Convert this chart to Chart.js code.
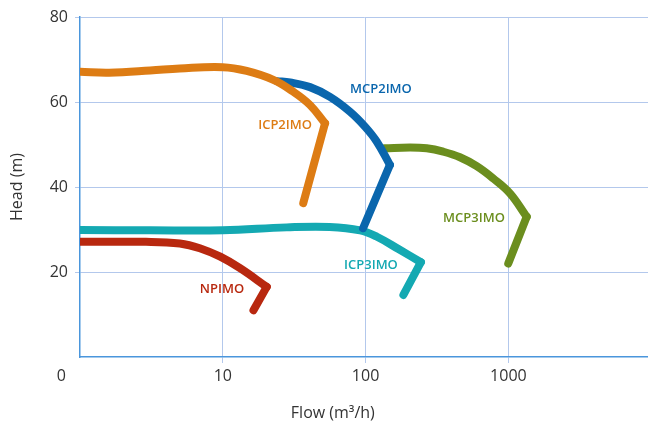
<!DOCTYPE html>
<html lang="en">
<head>
  <meta charset="UTF-8">
  <title>Pump curves</title>
  <script src="https://cdn.jsdelivr.net/npm/chart.js"></script>
  <style>
    body {
      margin: 0;
      padding: 0;
      background-color: #fff;
    }
    .chart-container {
      width: 648px;
      height: 428px;
    }
  </style>
</head>
<body>
  <div class="chart-container">
    <canvas id="pumpChart"></canvas>
  </div>

  <script>
    // Achsen
    const xTicks = [1, 10, 100, 1000];
    const yTicks = [0, 20, 40, 60, 80];

    // Kennlinien: Bogen bis zum Knick, danach gerade Linie zum Endpunkt
    const icp2Flow = [1, 1.6, 3.1, 5, 10, 14.7, 22.6, 31.2, 40.8, 52];
    const icp2Head = [67.1, 66.9, 67.4, 67.9, 68.2, 67.3, 65.2, 62.4, 59.3, 55];
    const icp2End = [36.6, 36.2];

    const mcp2Flow = [24, 29.6, 40.8, 56.3, 77.8, 99, 119.6, 148];
    const mcp2Head = [64.9, 64.6, 63.5, 61.2, 57.7, 54.2, 50.7, 45.2];
    const mcp2End = [96, 30.3];

    const mcp3Flow = [136, 205, 268, 350, 458, 600, 784, 1026, 1343];
    const mcp3Head = [49.1, 49.3, 49.1, 48.3, 47, 44.9, 42, 38.5, 33];
    const mcp3End = [998, 22];

    const icp3Flow = [1, 3.1, 10, 28, 56, 91.5, 120, 170, 244];
    const icp3Head = [29.9, 29.8, 29.8, 30.5, 30.6, 29.8, 28.3, 25.4, 22.3];
    const icp3End = [184, 14.6];

    const npFlow = [1, 2.9, 5, 6.9, 9.6, 13.2, 20.3];
    const npHead = [27.1, 27.1, 26.7, 25.6, 23.6, 20.9, 16.5];
    const npEnd = [16.4, 11];

    // Beschriftungen der Kurven
    const labelText = ['MCP2IMO', 'ICP2IMO', 'MCP3IMO', 'ICP3IMO', 'NPIMO'];
    const labelFlow = [128, 27.3, 574, 109, 9.87];
    const labelHead = [63.1, 54.6, 32.7, 21.6, 16];

    const colors = {
      icp2: '#dd7c14',
      mcp2: '#0a66ad',
      mcp3: '#6b8e1e',
      icp3: '#14a9b2',
      np: '#b8280f'
    };
    const labelColors = [colors.mcp2, colors.icp2, colors.mcp3, colors.icp3, colors.np];

    function toPoints(flow, head) {
      return flow.map((f, i) => ({ x: f, y: head[i] }));
    }

    // Zwei Datensätze pro Pumpe: Bogen + Knick
    function pumpDatasets(flow, head, end, color) {
      const last = flow.length - 1;
      return [
        {
          data: toPoints(flow, head),
          borderColor: color,
          tension: 0.4
        },
        {
          data: [{ x: flow[last], y: head[last] }, { x: end[0], y: end[1] }],
          borderColor: color,
          tension: 0
        }
      ];
    }

    const curveLabels = {
      id: 'curveLabels',
      afterDatasetsDraw(chart) {
        const { ctx, scales: { x, y } } = chart;
        ctx.save();
        ctx.font = '600 13px "Open Sans"';
        ctx.textAlign = 'center';
        ctx.textBaseline = 'middle';
        labelText.forEach((t, i) => {
          ctx.fillStyle = labelColors[i];
          ctx.fillText(t, x.getPixelForValue(labelFlow[i]), y.getPixelForValue(labelHead[i]));
        });
        ctx.restore();
      }
    };

    const gridColor = '#b3c8ec';
    const axisColor = '#4a96dc';

    const ctx = document.getElementById('pumpChart').getContext('2d');
    const pumpChart = new Chart(ctx, {
      type: 'line',
      data: {
        datasets: [
          ...pumpDatasets(icp2Flow, icp2Head, icp2End, colors.icp2),
          ...pumpDatasets(mcp2Flow, mcp2Head, mcp2End, colors.mcp2),
          ...pumpDatasets(mcp3Flow, mcp3Head, mcp3End, colors.mcp3),
          ...pumpDatasets(icp3Flow, icp3Head, icp3End, colors.icp3),
          ...pumpDatasets(npFlow, npHead, npEnd, colors.np)
        ]
      },
      options: {
        responsive: true,
        maintainAspectRatio: false,
        animation: false,
        layout: { padding: { top: 17, right: 0, bottom: 0, left: 0 } },
        elements: {
          point: { radius: 0 },
          line: { borderWidth: 8, borderCapStyle: 'round', borderJoinStyle: 'round', fill: false }
        },
        datasets: { line: { clip: 0 } },
        plugins: {
          legend: { display: false },
          tooltip: { enabled: false }
        },
        scales: {
          x: {
            type: 'logarithmic',
            min: 1,
            max: 9500,
            afterBuildTicks: (scale) => {
              scale.ticks = xTicks.map(v => ({ value: v }));
            },
            afterFit: (scale) => { scale.height = 71; },
            ticks: {
              color: '#333',
              font: { family: 'Open Sans', size: 16 },
              padding: 4,
              maxRotation: 0,
              autoSkip: false,
              callback: (value) => value === 1 ? '0         ' : String(value)
            },
            grid: {
              color: (c) => c.tick && c.tick.value === 1 ? 'rgba(0,0,0,0)' : gridColor,
              tickLength: 6
            },
            border: { color: axisColor, width: 1.5 },
            title: {
              display: true,
              text: 'Flow (m³/h)               ',
              color: '#333',
              font: { family: 'Open Sans', size: 16 },
              padding: { top: 0, bottom: 5 }
            }
          },
          y: {
            min: 0,
            max: 80,
            afterBuildTicks: (scale) => {
              scale.ticks = yTicks.map(v => ({ value: v }));
            },
            afterFit: (scale) => { scale.width = 80; },
            ticks: {
              color: '#333',
              font: { family: 'Open Sans', size: 16 },
              padding: 7,
              callback: (value) => value === 0 ? '' : String(value)
            },
            grid: {
              color: (c) => c.tick && c.tick.value === 0 ? 'rgba(0,0,0,0)' : gridColor,
              tickLength: 5
            },
            border: { color: axisColor, width: 1.5 },
            title: {
              display: true,
              text: 'Head (m)',
              color: '#333',
              font: { family: 'Open Sans', size: 16 },
              padding: { top: 8, bottom: 0 }
            }
          }
        }
      },
      plugins: [curveLabels]
    });
  </script>
</body>
</html>
